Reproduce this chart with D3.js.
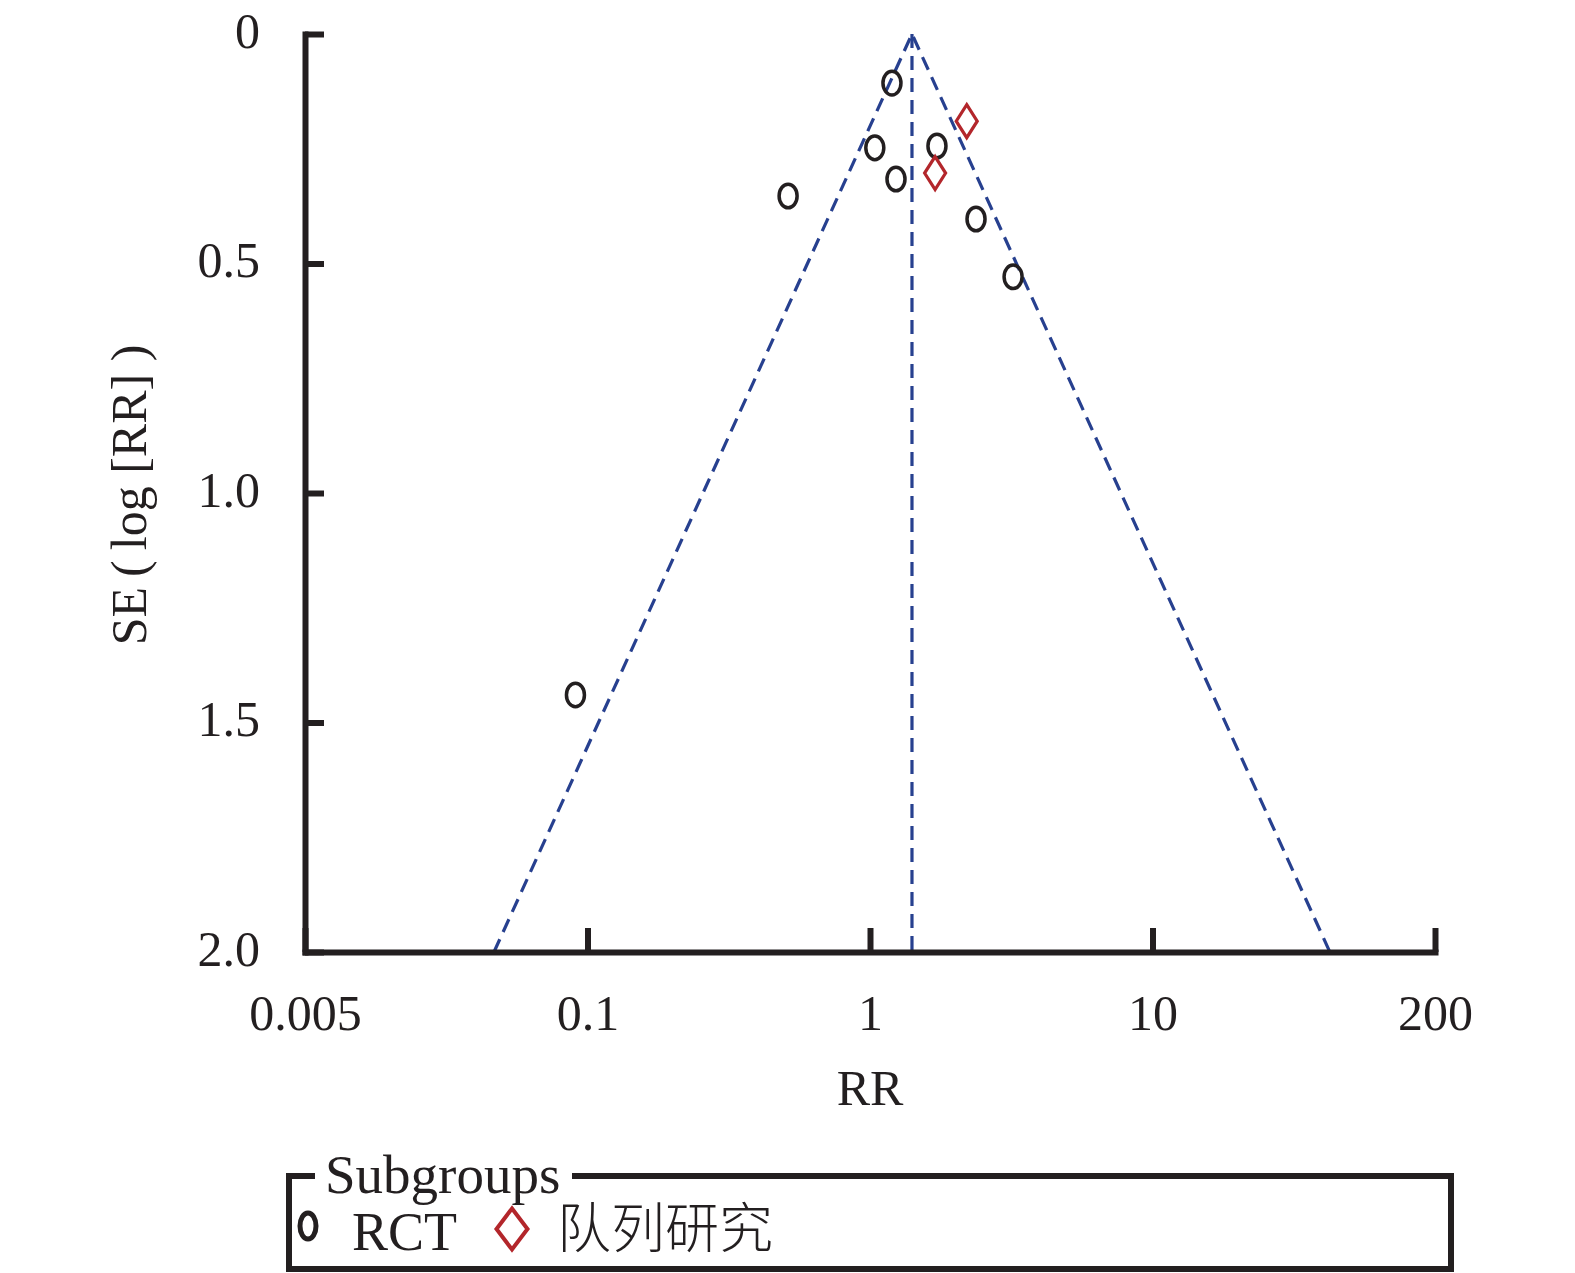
<!DOCTYPE html>
<html>
<head>
<meta charset="utf-8">
<script src="https://cdn.jsdelivr.net/npm/d3@7"></script>
<style>
  html, body { margin: 0; padding: 0; background: #ffffff; }
  svg { display: block; }
  text { font-family: "Liberation Serif", "DejaVu Serif", serif; fill: #231F20; }
</style>
</head>
<body>
<svg id="chart" width="1575" height="1273"></svg>
<script>
// ---------------- data ----------------
const xTicks = [0.005, 0.1, 1, 10, 200];
const xTickLabels = ["0.005", "0.1", "1", "10", "200"];
const yTicks = [0, 0.5, 1.0, 1.5, 2.0];
const yTickLabels = ["0", "0.5", "1.0", "1.5", "2.0"];

// RCT studies
const rctRR = [1.196, 1.04, 1.726, 1.236, 0.513, 2.373, 3.21, 0.088];
const rctSE = [0.107, 0.248, 0.244, 0.316, 0.353, 0.403, 0.529, 1.44];

// Cohort studies (队列研究)
const cohortRR = [2.20, 1.70];
const cohortSE = [0.190, 0.303];

// funnel
const pooledRR = 1.408;
const funnelLowerRR = 0.0371;
const funnelUpperRR = 65.6;
const seMax = 2.0;

const xLabel = "RR";
const yLabel = "SE\u2009(\u2009log [RR] )";
const legendTitle = "Subgroups";
const groupNames = ["RCT", "队列研究"];

// ---------------- layout ----------------
const svg = d3.select("#chart");
const pLeft = 305, pRight = 1435, pTop = 34, pBottom = 952;
const ink = "#231F20", blue = "#27408F", red = "#B3262B";

const xRange = xTicks.map((d, i) => pLeft + i * (pRight - pLeft) / (xTicks.length - 1));
const x = d3.scaleLog().domain(xTicks).range(xRange);
const y = d3.scaleLinear().domain([0, seMax]).range([pTop, pBottom]);

// ---------------- funnel lines ----------------
const dash = "14,8";
const funnel = svg.append("g").attr("fill", "none").attr("stroke", blue)
  .attr("stroke-width", 3.2).attr("stroke-dasharray", dash);
const line = d3.line().x(d => x(d[0])).y(d => y(d[1]));
funnel.append("path").attr("d", line([[funnelLowerRR, seMax], [pooledRR, 0], [funnelUpperRR, seMax]]));
funnel.append("path").attr("d", line([[pooledRR, 0], [pooledRR, seMax]]));

// ---------------- axes ----------------
const xAxis = d3.axisBottom(x).tickValues(xTicks)
  .tickFormat((d, i) => xTickLabels[i]).tickSizeInner(-24).tickSizeOuter(0);
const gx = svg.append("g").attr("transform", `translate(0,${pBottom})`).call(xAxis);
const yAxis = d3.axisLeft(y).tickValues(yTicks)
  .tickFormat((d, i) => yTickLabels[i]).tickSizeInner(-19).tickSizeOuter(0).tickPadding(45);
const gy = svg.append("g").attr("transform", `translate(${pLeft},0)`).call(yAxis);

[gx, gy].forEach(g => {
  g.select(".domain").attr("stroke", ink).attr("stroke-width", 6).attr("stroke-linecap", "square");
  g.selectAll(".tick line").attr("stroke", ink).attr("stroke-width", 6);
  g.selectAll(".tick text").attr("fill", ink)
    .style("font-family", '"Liberation Serif", serif').style("font-size", "50px");
});
gx.selectAll(".tick text").attr("y", 78).attr("dy", 0);
gy.selectAll(".tick text").attr("dy", "0.26em");

// axis titles
svg.append("text").attr("x", (x(1))).attr("y", 1105).attr("text-anchor", "middle")
  .style("font-size", "50px").text(xLabel);
svg.append("text").attr("transform", "translate(146,495) rotate(-90)")
  .attr("text-anchor", "middle").style("font-size", "50px").text(yLabel);

// ---------------- points ----------------
const rct = rctRR.map((d, i) => ({ rr: d, se: rctSE[i] }));
const cohort = cohortRR.map((d, i) => ({ rr: d, se: cohortSE[i] }));

svg.append("g").selectAll("ellipse").data(rct).join("ellipse")
  .attr("cx", d => x(d.rr)).attr("cy", d => y(d.se))
  .attr("rx", 9).attr("ry", 11.8)
  .attr("fill", "none").attr("stroke", ink).attr("stroke-width", 3.5);

const diamond = (hw, hh) => `M0,${-hh}L${hw},0L0,${hh}L${-hw},0Z`;
svg.append("g").selectAll("path").data(cohort).join("path")
  .attr("transform", d => `translate(${x(d.rr)},${y(d.se)})`)
  .attr("d", diamond(10.5, 16.5))
  .attr("fill", "none").attr("stroke", red).attr("stroke-width", 3.2);

// ---------------- legend ----------------
const lg = svg.append("g");
const lL = 289, lR = 1451, lT = 1176, lB = 1269;
lg.append("path").attr("d", `M312,${lT}H${lL}V${lB}H${lR}V${lT}H575`)
  .attr("fill", "none").attr("stroke", ink).attr("stroke-width", 6).attr("stroke-linecap", "square");
lg.append("text").attr("x", 325).attr("y", 1193).style("font-size", "55px").text(legendTitle);

lg.append("ellipse").attr("cx", 308).attr("cy", 1226).attr("rx", 8).attr("ry", 13)
  .attr("fill", "none").attr("stroke", ink).attr("stroke-width", 5);
lg.append("text").attr("x", 352).attr("y", 1250).style("font-size", "54px").text(groupNames[0]);

lg.append("path").attr("transform", "translate(512,1229)").attr("d", diamond(15.5, 20.5))
  .attr("fill", "none").attr("stroke", red).attr("stroke-width", 4);
lg.append("text").attr("x", 557).attr("y", 1248)
  .style("font-family", '"Noto Sans CJK SC", sans-serif').style("font-weight", 300)
  .style("font-size", "54px").text(groupNames[1]);
</script>
</body>
</html>
